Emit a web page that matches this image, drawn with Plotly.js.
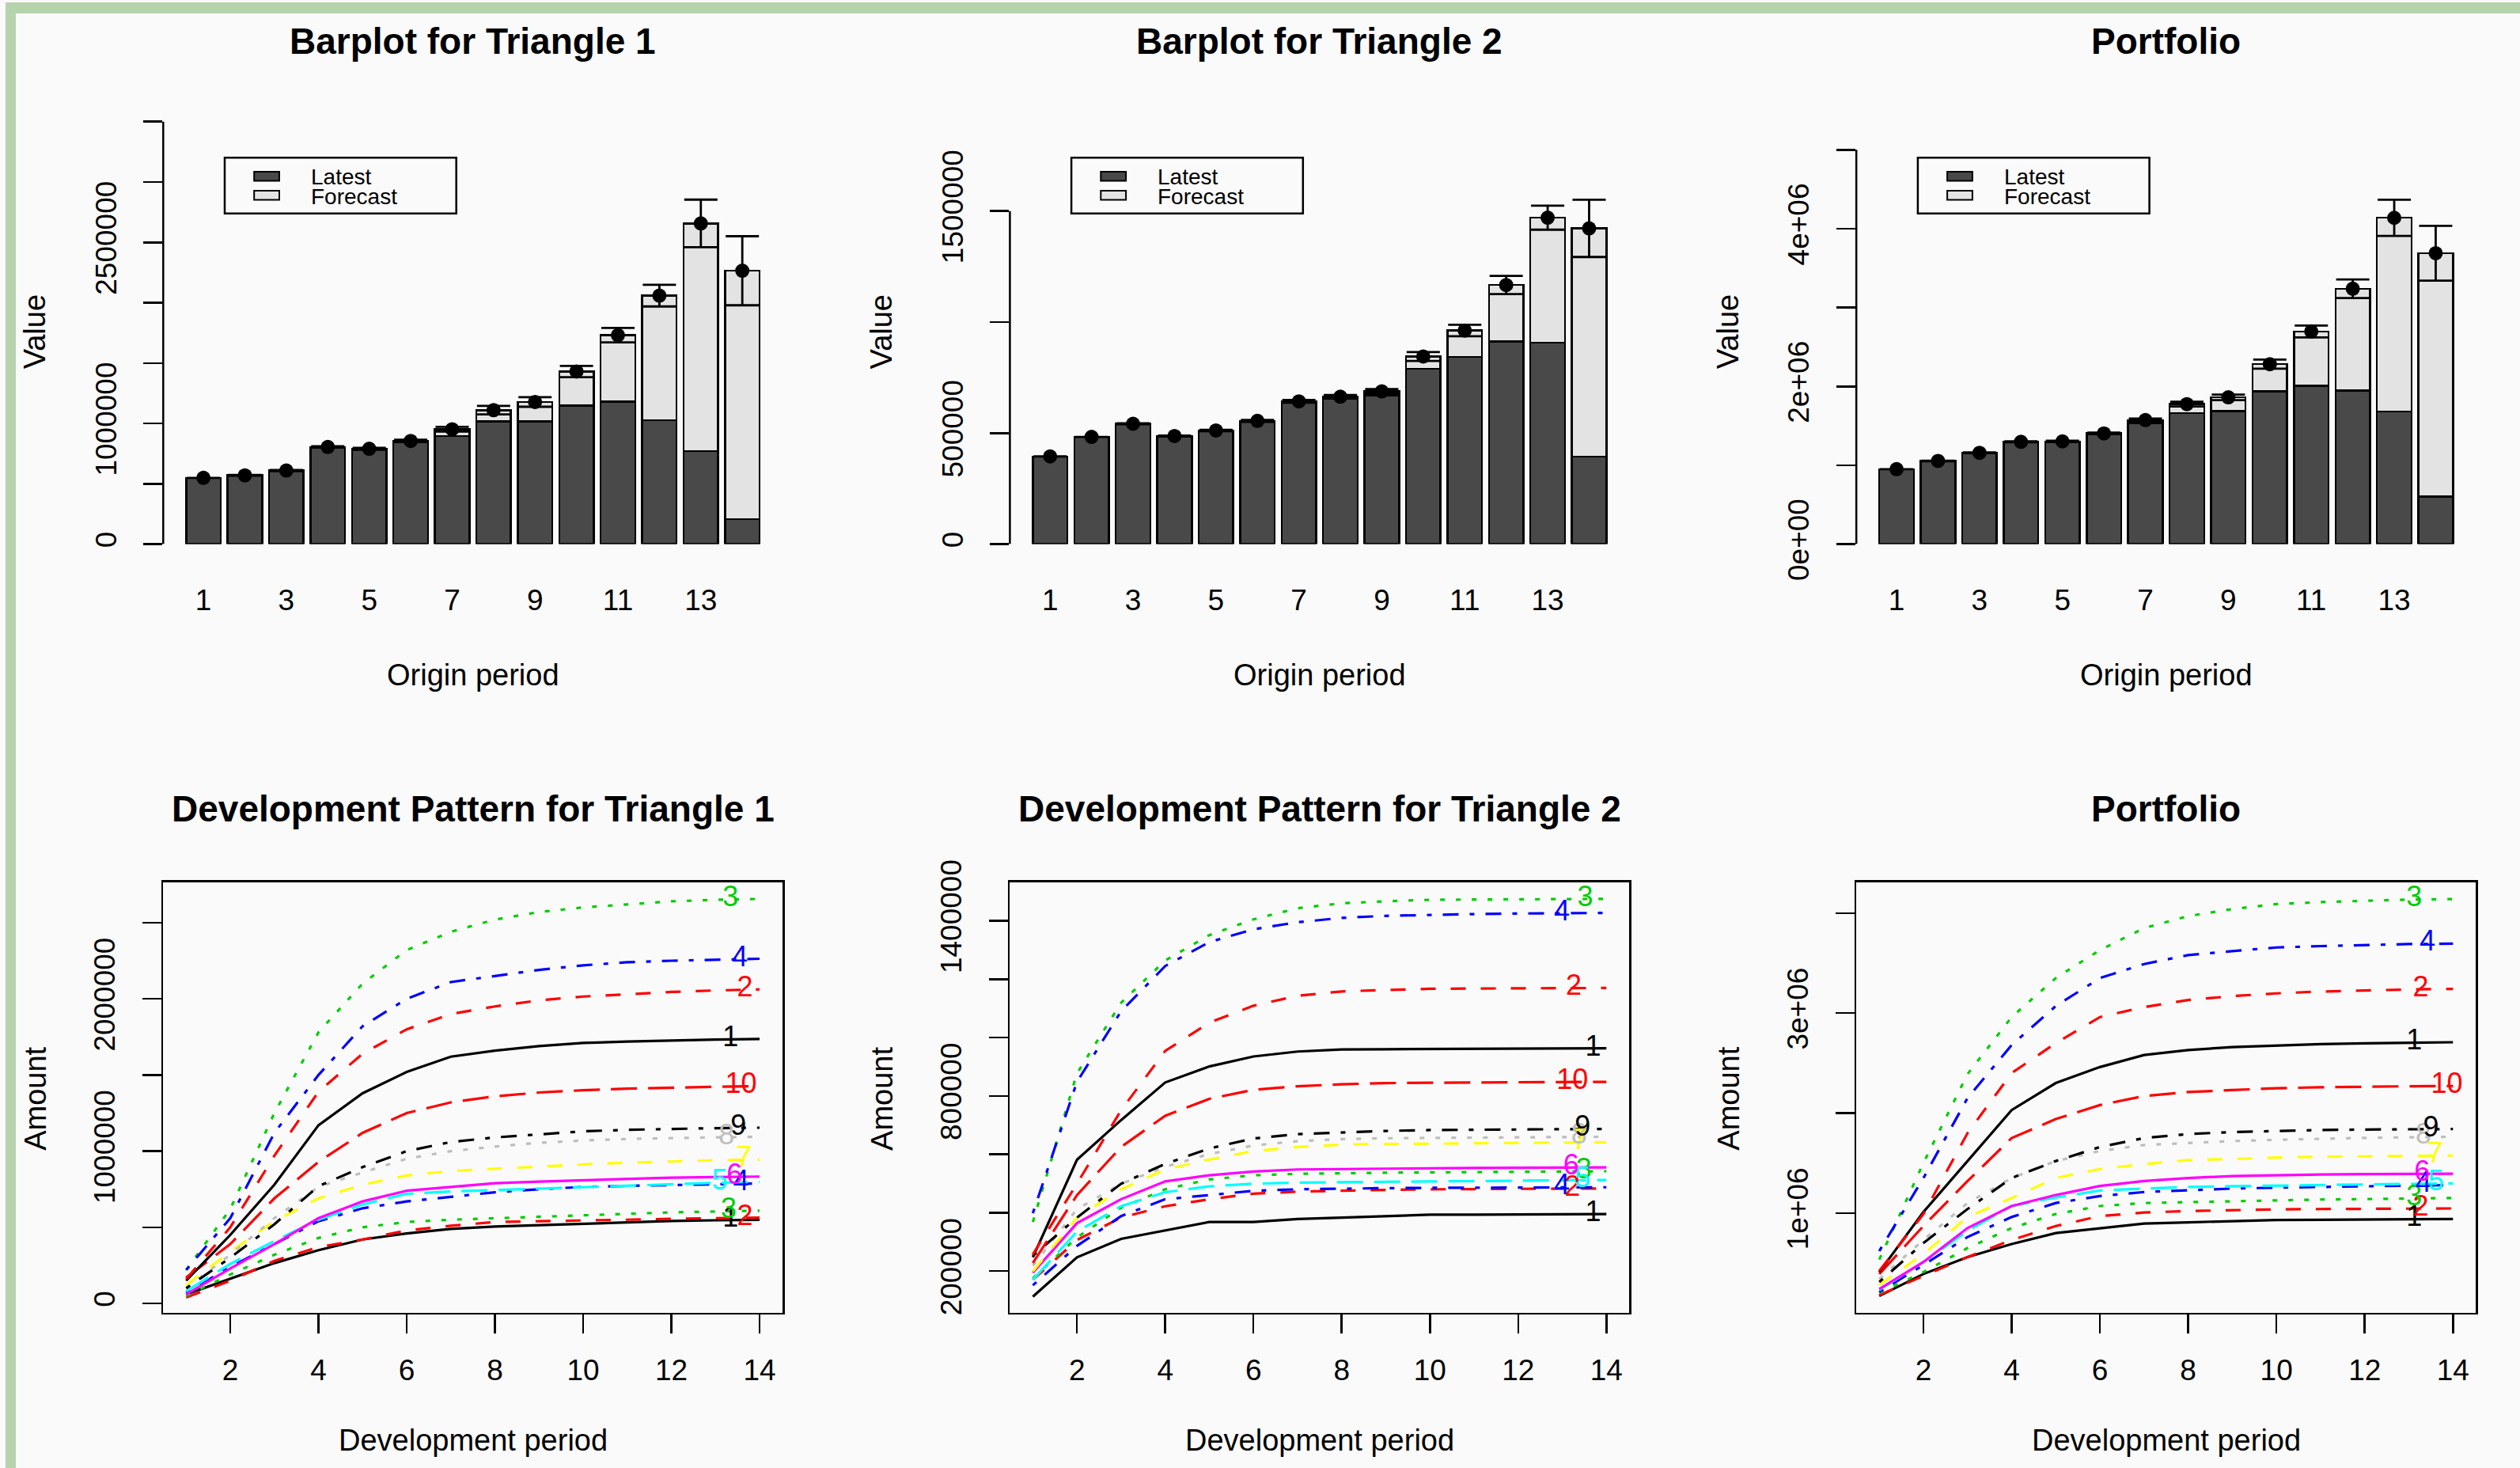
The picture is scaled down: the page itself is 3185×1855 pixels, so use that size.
<!DOCTYPE html>
<html><head><meta charset="utf-8">
<script src="https://cdn.plot.ly/plotly-3.0.1.min.js"></script>
<style>html,body{margin:0;padding:0;background:#FAFAFA;}#chart{width:3185px;height:1855px;}</style>
</head><body><div id="chart"></div>
<script>
// ---------------- DATA ----------------
const originPeriods = [1,2,3,4,5,6,7,8,9,10,11,12,13,14];
const devPeriods = [1,2,3,4,5,6,7,8,9,10,11,12,13,14];
const barTickVals = [1,3,5,7,9,11,13];

// Barplots (values in thousands)
const tri1Latest   = [549,568,606,801,783,847,896,1016,1016,1148,1182,1027,772,207];
const tri1Forecast = [0,2,4,4,7,8,56,94,162,282,549,1032,1885,2058];
const tri1SE       = [0,3,5,6,8,10,20,35,40,47,60,90,197,286];

const tri2Latest   = [395,483,542,487,512,555,641,661,670,790,843,913,907,395];
const tri2Forecast = [0,0,0,0,0,0,2,3,18,55,119,254,563,1027];
const tri2SE       = [0,0,2,2,3,4,6,8,10,20,26,41,54,129];

const portLatest   = [951,1051,1150,1290,1296,1400,1530,1662,1689,1937,2006,1948,1683,605];
const portForecast = [0,4,8,7,7,4,43,113,173,345,691,1291,2455,3084];
const portSE       = [0,3,5,6,8,10,20,30,35,58,75,118,230,348];

// Bar y-axis ticks
const tri1BarTickVals = [0,500000,1000000,1500000,2000000,2500000,3000000,3500000];
const tri1BarTickText = ['0','','1000000','','','2500000','',''];
const tri2BarTickVals = [0,500000,1000000,1500000];
const tri2BarTickText = ['0','500000','','1500000'];
const portBarTickVals = [0,1e6,2e6,3e6,4e6,5e6];
const portBarTickText = ['0e+00','','2e+06','','4e+06',''];

// Development patterns (thousands), one array per origin period
const tri1Dev = [
 [60,163,265,350,420,460,490,505,515,525,535,541,546,549],
 [40,150,280,370,420,480,510,535,540,543,550,556,560,564],
 [50,190,320,430,500,535,550,560,570,580,590,598,604,609],
 [70,240,390,540,625,670,700,730,750,765,772,778,784,788],
 [80,260,410,550,650,720,735,745,755,765,775,785,792,797],
 [60,230,390,560,670,740,765,790,800,810,820,826,830,833],
 [120,340,540,690,780,840,870,885,900,913,925,933,940,944],
 [100,320,560,765,860,950,1000,1030,1055,1070,1080,1087,1091,1094],
 [100,300,520,770,895,1000,1060,1090,1110,1130,1140,1147,1151,1154],
 [170,390,690,930,1120,1250,1320,1360,1385,1400,1410,1418,1423,1427],
 [150,450,780,1170,1380,1520,1620,1660,1690,1710,1720,1728,1733,1736],
 [160,500,970,1390,1640,1800,1900,1950,1990,2015,2030,2045,2055,2062],
 [220,620,1250,1780,2100,2320,2440,2520,2570,2600,2620,2640,2650,2656],
 [220,560,1120,1500,1820,2000,2110,2150,2190,2220,2240,2250,2258,2263]
];
const tri2Dev = [
 [112,247,310,339,368,368,378,383,388,393,393,394,394,395],
 [170,306,383,422,446,465,472,476,478,480,481,482,483,483],
 [175,315,417,480,514,528,533,536,537,538,539,540,541,542],
 [151,286,388,446,460,475,480,483,484,485,486,486,487,487],
 [170,335,422,470,490,499,503,505,506,507,508,509,510,512],
 [194,364,446,507,528,541,548,550,551,552,553,554,555,555],
 [199,383,480,548,582,611,625,633,635,637,638,639,640,641],
 [218,412,499,557,601,630,645,652,655,656,657,658,659,660],
 [252,383,499,567,620,654,669,675,680,683,684,685,686,687],
 [228,460,625,732,790,821,833,840,844,846,846,847,847,848],
 [247,581,717,846,901,935,952,959,960,961,962,962,963,963],
 [257,499,751,954,1051,1109,1143,1158,1163,1167,1168,1169,1170,1170],
 [368,877,1119,1264,1351,1405,1443,1460,1467,1472,1473,1474,1475,1475],
 [398,848,1090,1245,1327,1371,1395,1410,1417,1421,1423,1425,1426,1427]
];
const portDev = [
 [170,390,560,690,800,845,895,907,918,930,933,936,938,940],
 [180,370,560,730,870,970,1005,1020,1030,1037,1040,1042,1044,1046],
 [200,410,650,850,990,1070,1100,1110,1120,1127,1135,1140,1145,1150],
 [210,480,760,960,1100,1170,1210,1230,1245,1254,1262,1270,1276,1280],
 [230,510,820,1070,1155,1225,1245,1260,1268,1273,1280,1287,1293,1297],
 [240,510,850,1070,1180,1270,1320,1350,1370,1380,1385,1390,1392,1393],
 [280,590,960,1150,1350,1440,1490,1530,1540,1555,1563,1568,1572,1575],
 [340,730,1100,1350,1520,1620,1680,1700,1720,1732,1745,1752,1758,1763],
 [310,700,1040,1350,1520,1660,1750,1790,1810,1823,1830,1835,1838,1840],
 [390,870,1320,1750,1940,2080,2170,2210,2230,2248,2258,2265,2268,2270],
 [410,1010,1520,2030,2300,2460,2580,2630,2660,2676,2690,2698,2704,2708],
 [420,990,1800,2400,2700,2960,3060,3130,3170,3197,3215,3228,3236,3242],
 [535,1500,2390,2960,3350,3630,3850,3970,4040,4090,4110,4125,4135,4140],
 [620,1350,2150,2680,3070,3350,3490,3580,3620,3656,3670,3682,3690,3694]
];
const curveLabels = ['1','2','3','4','5','6','7','8','9','10','1','2','3','4'];

const tri1DevTickVals = [0,500000,1000000,1500000,2000000,2500000];
const tri1DevTickText = ['0','','1000000','','2000000',''];
const tri2DevTickVals = [200000,400000,600000,800000,1000000,1200000,1400000];
const tri2DevTickText = ['200000','','','800000','','','1400000'];
const portDevTickVals = [1e6,2e6,3e6,4e6];
const portDevTickText = ['1e+06','','3e+06',''];
const devXTickVals = [2,4,6,8,10,12,14];

const UNIT = 1000;

// ---------------- STYLE / LAYOUT ----------------
const W = 3185, H = 1855;
const FONT = 'Liberation Sans, Arial, Helvetica, sans-serif';
const palette = ['#000000','#FF0000','#00CD00','#0000FF','#00FFFF','#FF00FF','#FFFF00','#BEBEBE'];
const ltys = ['solid','19px,19px','6px,14px','6px,14px,20px,14px','33px,14px'];
const labelX = [
 [13.34,13.67,13.30,13.58,13.10,13.43,13.64,13.25,13.52,13.58,13.34,13.67,13.34,13.55],
 [13.70,13.23,13.49,12.99,13.46,13.20,13.40,13.38,13.46,13.23,13.70,13.26,13.52,12.99],
 [13.12,13.27,13.12,13.33,13.62,13.30,13.59,13.33,13.50,13.86,13.12,13.27,13.12,13.42]
];
const colLeft = [206.3, 1276.4, 2346.2];
const colRight = [989, 2059.3, 3129.3];
const barTop = 143.5, barBottom = 687.6, devTop = 1114.5, devBottom = 1658.6;
const fx = p => p / W;
const fy = p => 1 - p / H;

const scale = a => a.map(v => v * UNIT);

const traces = [];
const shapes = [];
const annotations = [];

const barSets = [
 {lat: tri1Latest, fc: tri1Forecast, se: tri1SE, tv: tri1BarTickVals, tt: tri1BarTickText, top: 3.567e6, title: 'Barplot for Triangle 1'},
 {lat: tri2Latest, fc: tri2Forecast, se: tri2SE, tv: tri2BarTickVals, tt: tri2BarTickText, top: 1.939e6, title: 'Barplot for Triangle 2'},
 {lat: portLatest, fc: portForecast, se: portSE, tv: portBarTickVals, tt: portBarTickText, top: 5.46e6, title: 'Portfolio'}
];
const devSets = [
 {d: tri1Dev, tv: tri1DevTickVals, tt: tri1DevTickText, range: [-0.0597e6, 2.767e6], title: 'Development Pattern for Triangle 1'},
 {d: tri2Dev, tv: tri2DevTickVals, tt: tri2DevTickText, range: [0.0576e6, 1.533e6], title: 'Development Pattern for Triangle 2'},
 {d: portDev, tv: portDevTickVals, tt: portDevTickText, range: [0.0044e6, 4.311e6], title: 'Portfolio'}
];

const layout = {
  width: W, height: H,
  margin: {l:0, r:0, t:0, b:0, pad:0},
  paper_bgcolor: '#FAFAFA', plot_bgcolor: '#FAFAFA',
  showlegend: false,
  barmode: 'stack', bargap: 0.1667,
  font: {family: FONT, color: '#000000', size: 37},
  shapes: shapes, annotations: annotations
};

const TICKFONT = {family: FONT, size: 37, color: '#000'};

barSets.forEach((s, i) => {
  const n = i + 1;
  const xa = n === 1 ? 'x' : 'x' + n, ya = n === 1 ? 'y' : 'y' + n;
  const L = colLeft[i], R = colRight[i];
  traces.push({type:'bar', x: originPeriods, y: scale(s.lat), name:'Latest', xaxis: xa, yaxis: ya,
    marker:{color:'#494949', line:{color:'#000', width:2.5}}});
  traces.push({type:'bar', x: originPeriods, y: scale(s.fc), name:'Forecast', xaxis: xa, yaxis: ya,
    marker:{color:'#E3E3E3', line:{color:'#000', width:2.5}}});
  const ult = s.lat.map((v, k) => (v + s.fc[k]) * UNIT);
  traces.push({type:'scatter', mode:'markers', x: originPeriods, y: ult, xaxis: xa, yaxis: ya,
    marker:{color:'#000', size:18},
    error_y:{type:'data', array: scale(s.se), visible:true, color:'#000', thickness:2.8, width:21}});
  layout['xaxis' + (n === 1 ? '' : n)] = {
    domain:[fx(L), fx(R)], anchor: ya, range:[0.03, 14.97],
    tickmode:'array', tickvals: barTickVals, ticktext: barTickVals.map(String),
    ticks:'outside', ticklen:24, tickcolor:'rgba(0,0,0,0)', ticklabelstandoff: 14,
    showline:false, showgrid:false, zeroline:false, tickfont: TICKFONT, fixedrange:true
  };
  layout['yaxis' + (n === 1 ? '' : n)] = {
    domain:[fy(barBottom), fy(barTop)], anchor: xa, range:[0, s.top],
    tickmode:'array', tickvals: s.tv, ticktext: s.tt, tickangle:-90,
    ticks:'outside', ticklen:24, tickwidth:2.5, tickcolor:'#000', ticklabelstandoff: 20,
    showline:false, showgrid:false, zeroline:false, tickfont: TICKFONT, fixedrange:true
  };
  // y axis line from 0 to last tick (R style)
  shapes.push({type:'line', xref:'paper', yref: ya, x0: fx(L), x1: fx(L), y0: 0, y1: s.tv[s.tv.length-1],
    line:{color:'#000', width:2.5}});
  // legend
  shapes.push({type:'rect', xref:'paper', yref:'paper', x0: fx(L+77.7), x1: fx(L+370.4), y0: fy(269.8), y1: fy(199.2),
    line:{color:'#000', width:2.5}, fillcolor:'rgba(0,0,0,0)'});
  shapes.push({type:'rect', xref:'paper', yref:'paper', x0: fx(L+114.9), x1: fx(L+146.7), y0: fy(228.5), y1: fy(217),
    line:{color:'#000', width:2}, fillcolor:'#494949'});
  shapes.push({type:'rect', xref:'paper', yref:'paper', x0: fx(L+114.9), x1: fx(L+146.7), y0: fy(252.6), y1: fy(241),
    line:{color:'#000', width:2}, fillcolor:'#E3E3E3'});
  annotations.push({xref:'paper', yref:'paper', x: fx(L+184.5), y: fy(223.9), text:'Latest', showarrow:false,
    xanchor:'left', yanchor:'middle', font:{family:FONT, size:28, color:'#000'}});
  annotations.push({xref:'paper', yref:'paper', x: fx(L+184.5), y: fy(248), text:'Forecast', showarrow:false,
    xanchor:'left', yanchor:'middle', font:{family:FONT, size:28, color:'#000'}});
  // titles
  annotations.push({xref:'paper', yref:'paper', x: fx((L+R)/2), y: fy(52.5), text:'<b>' + s.title + '</b>', showarrow:false,
    xanchor:'center', yanchor:'middle', font:{family:FONT, size:46, color:'#000'}});
  annotations.push({xref:'paper', yref:'paper', x: fx((L+R)/2), y: fy(853), text:'Origin period', showarrow:false,
    xanchor:'center', yanchor:'middle', font:{family:FONT, size:38, color:'#000'}});
  annotations.push({xref:'paper', yref:'paper', x: fx(L-162), y: fy(419), text:'Value', showarrow:false, textangle:-90,
    xanchor:'center', yanchor:'middle', font:{family:FONT, size:38, color:'#000'}});
});

devSets.forEach((s, i) => {
  const n = i + 4;
  const xa = 'x' + n, ya = 'y' + n;
  const L = colLeft[i], R = colRight[i];
  s.d.forEach((curve, c) => {
    const k = c % 10;
    traces.push({type:'scatter', mode:'lines', x: devPeriods, y: scale(curve), xaxis: xa, yaxis: ya,
      line:{color: palette[k % 8], width:3.2, dash: ltys[k % 5]}});
  });
  traces.push({type:'scatter', mode:'text', xaxis: xa, yaxis: ya, cliponaxis:false,
    x: labelX[i], y: s.d.map(curve => curve[curve.length-1] * UNIT), text: curveLabels,
    textposition:'middle center',
    textfont:{family:FONT, size:36, color: s.d.map((_, c) => palette[(c % 10) % 8])}});
  layout['xaxis' + n] = {
    domain:[fx(L), fx(R)], anchor: ya, range:[0.48, 14.52],
    tickmode:'array', tickvals: devXTickVals, ticktext: devXTickVals.map(String),
    ticks:'outside', ticklen:24, tickwidth:2.5, tickcolor:'#000', ticklabelstandoff: 14,
    showline:true, mirror:true, linecolor:'#000', linewidth:2.5,
    showgrid:false, zeroline:false, tickfont: TICKFONT, fixedrange:true
  };
  layout['yaxis' + n] = {
    domain:[fy(devBottom), fy(devTop)], anchor: xa, range: s.range,
    tickmode:'array', tickvals: s.tv, ticktext: s.tt, tickangle:-90,
    ticks:'outside', ticklen:24, tickwidth:2.5, tickcolor:'#000', ticklabelstandoff: 20,
    showline:true, mirror:true, linecolor:'#000', linewidth:2.5,
    showgrid:false, zeroline:false, tickfont: TICKFONT, fixedrange:true
  };
  annotations.push({xref:'paper', yref:'paper', x: fx((L+R)/2), y: fy(1022), text:'<b>' + s.title + '</b>', showarrow:false,
    xanchor:'center', yanchor:'middle', font:{family:FONT, size:46, color:'#000'}});
  annotations.push({xref:'paper', yref:'paper', x: fx((L+R)/2), y: fy(1820), text:'Development period', showarrow:false,
    xanchor:'center', yanchor:'middle', font:{family:FONT, size:38, color:'#000'}});
  annotations.push({xref:'paper', yref:'paper', x: fx(L-162), y: fy(1388.5), text:'Amount', showarrow:false, textangle:-90,
    xanchor:'center', yanchor:'middle', font:{family:FONT, size:38, color:'#000'}});
});

// window frame stripes
shapes.push({type:'rect', xref:'paper', yref:'paper', x0: fx(7), x1: fx(20), y0: 0, y1: fy(3), line:{width:0}, fillcolor:'#B7D3AE', layer:'below'});
shapes.push({type:'rect', xref:'paper', yref:'paper', x0: fx(7), x1: 1, y0: fy(17), y1: fy(3), line:{width:0}, fillcolor:'#B7D3AE', layer:'below'});

Plotly.newPlot('chart', traces, layout, {staticPlot:true, displayModeBar:false});
</script>
</body></html>
